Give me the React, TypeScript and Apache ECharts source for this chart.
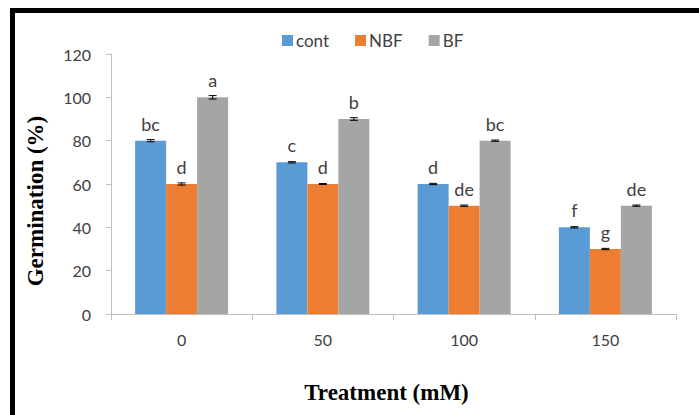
import React, { useEffect, useRef } from "react";
import * as echarts from "echarts";

const categories = ["0", "50", "100", "150"];
const seriesNames = ["cont", "NBF", "BF"];
const contValues = [80, 70, 60, 40];
const nbfValues = [60, 60, 50, 30];
const bfValues = [100, 90, 80, 50];
const contErr = [0.5, 0.3, 0.3, 0.3];
const nbfErr = [0.5, 0.2, 0.3, 0.3];
const bfErr = [0.8, 0.6, 0.3, 0.3];
const contLetters = ["bc", "c", "d", "f"];
const nbfLetters = ["d", "d", "de", "g"];
const bfLetters = ["a", "b", "bc", "de"];
const colors = ["#5B9BD5", "#ED7D31", "#A5A5A5"];
const yTitle = "Germination (%)";
const xTitle = "Treatment (mM)";

const BAR_W = 31;

export default function App() {
  const ref = useRef<HTMLDivElement>(null);
  useEffect(() => {
    if (!ref.current) return;
    const chart = echarts.init(ref.current, undefined, { renderer: "svg" });
    const values = [contValues, nbfValues, bfValues];
    const errs = [contErr, nbfErr, bfErr];
    const letters = [contLetters, nbfLetters, bfLetters];
    const bars = values.map((vals, i) => ({
      name: seriesNames[i],
      type: "bar",
      data: vals,
      barWidth: BAR_W,
      barGap: "0%",
      itemStyle: { color: colors[i] },
      label: {
        show: true,
        position: "top",
        distance: 8,
        formatter: (p: any) => letters[i][p.dataIndex],
        fontFamily: "Lato",
        fontSize: 18,
        color: "#404040",
      },
      z: 2,
    }));
    const errSeries = values.map((vals, i) => ({
      name: seriesNames[i] + "_err",
      type: "custom",
      data: vals.map((v, j) => [j, v, errs[i][j]]),
      z: 5,
      silent: true,
      renderItem: (params: any, api: any) => {
        const x = api.value(0);
        const y = api.value(1);
        const e = api.value(2);
        const top = api.coord([x, y + e]);
        const bot = api.coord([x, y - e]);
        const cx = top[0] + (i - 1) * BAR_W;
        const half = 4;
        const st = { stroke: "#000", lineWidth: 1 };
        return {
          type: "group",
          children: [
            { type: "line", shape: { x1: cx, y1: top[1], x2: cx, y2: bot[1] }, style: st },
            { type: "line", shape: { x1: cx - half, y1: top[1], x2: cx + half, y2: top[1] }, style: st },
            { type: "line", shape: { x1: cx - half, y1: bot[1], x2: cx + half, y2: bot[1] }, style: st },
          ],
        };
      },
    }));
    chart.setOption({
      animation: false,
      backgroundColor: "#fff",
      color: colors,
      legend: {
        data: seriesNames,
        left: 277,
        top: 27,
        itemWidth: 11,
        itemHeight: 11,
        itemGap: 26,
        icon: "rect",
        textStyle: { fontFamily: "Lato", fontSize: 17, color: "#404040", padding: [0, 0, 0, -2] },
      },
      graphic: [
        {
          type: "text",
          x: 35,
          y: 201,
          rotation: Math.PI / 2,
          style: {
            text: yTitle,
            fontFamily: "Liberation Serif",
            fontWeight: "bold",
            fontSize: 23,
            fill: "#000",
            align: "center",
            verticalAlign: "middle",
          },
        },
      ],
      grid: { left: 111, right: 23, top: 54, bottom: 101 },
      xAxis: {
        type: "category",
        data: categories,
        name: xTitle,
        nameLocation: "middle",
        nameGap: 67,
        nameTextStyle: { fontFamily: "Liberation Serif", fontWeight: "bold", fontSize: 23, color: "#000", padding: [0, 14, 0, 0] },
        axisLine: { lineStyle: { color: "#BFBFBF" } },
        axisTick: { show: true, length: 6, lineStyle: { color: "#BFBFBF" } },
        axisLabel: { fontFamily: "Lato", fontSize: 16, color: "#404040", margin: 17 },
      },
      yAxis: {
        type: "value",
        min: 0,
        max: 120,
        interval: 20,
        axisLine: { show: true, lineStyle: { color: "#BFBFBF" } },
        axisTick: { show: true, length: 5, lineStyle: { color: "#BFBFBF" } },
        splitLine: { show: false },
        axisLabel: { fontFamily: "Lato", fontSize: 16, color: "#404040", margin: 20 },
      },
      series: [...bars, ...errSeries],
    });
    return () => chart.dispose();
  }, []);
  return (
    <div style={{ position: "fixed", left: 0, top: 0, width: 699, height: 415, background: "#fff" }}>
      <div ref={ref} style={{ position: "absolute", left: 0, top: 0, width: 699, height: 415 }} />
      <div
        style={{
          position: "absolute",
          left: 10,
          top: 8,
          width: 700,
          height: 420,
          borderTop: "5px solid #000",
          borderLeft: "5px solid #000",
          pointerEvents: "none",
        }}
      />
    </div>
  );
}
